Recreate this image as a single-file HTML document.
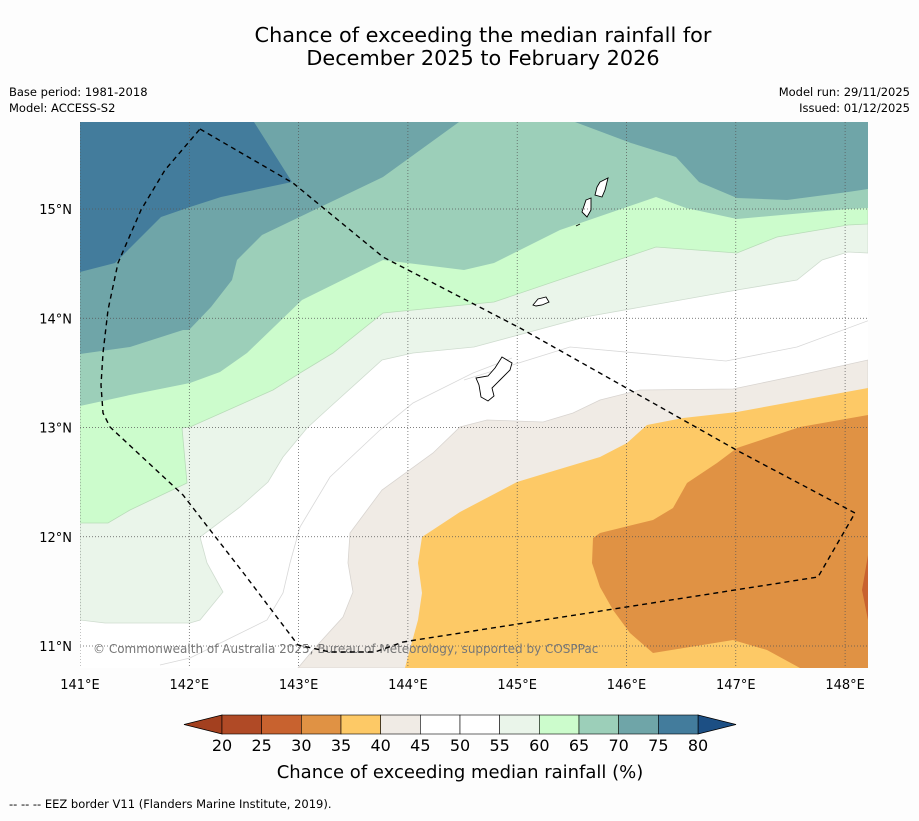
<!DOCTYPE html>
<html><head><meta charset="utf-8"><style>
body{margin:0;background:#fdfdfd;font-family:"Liberation Sans",sans-serif;}
svg text{font-family:"DejaVu Sans","Liberation Sans",sans-serif;}
</style></head><body>
<svg id="chart" width="919" height="816" viewBox="0 0 919 816" xmlns="http://www.w3.org/2000/svg">
<rect width="919" height="816" fill="#fdfdfd"/>
<text x="483" y="42" font-size="20.8" text-anchor="middle" fill="#000">Chance of exceeding the median rainfall for</text>
<text x="483" y="65" font-size="20.8" text-anchor="middle" fill="#000">December 2025 to February 2026</text>
<text x="9" y="96" font-size="11.5">Base period: 1981-2018</text>
<text x="9" y="112" font-size="11.5">Model: ACCESS-S2</text>
<text x="910" y="96" font-size="11.5" text-anchor="end">Model run: 29/11/2025</text>
<text x="910" y="112" font-size="11.5" text-anchor="end">Issued: 01/12/2025</text>

<g>
<clipPath id="mc"><rect x="80" y="122" width="788" height="546"/></clipPath>
<g clip-path="url(#mc)">
<rect x="80" y="122" width="788" height="546" fill="#ffffff"/>
<path fill="#eaf5ea" stroke="#cfdccf" stroke-width="0.8" d="M80,122 H868 V253 L848,252 822,260 797,280 737,290 585,317 474,347 413,353 382,360 330,407 307,428 283,457 268,482 240,507 200,537 207,563 223,592 200,620 190,623 105,623 80,620 Z"/>
<path fill="#ccfccc" stroke="#b8dcb8" stroke-width="0.8" d="M80,122 H868 V224 L848,225 777,237 737,253 656,247 494,302 383,313 333,353 300,373 273,390 190,427 182,428 187,483 130,510 108,523 80,523 Z"/>
<path fill="#9ccfb9" d="M80,122 H868 V208 L848,209 737,219 686,208 656,197 560,230 494,263 464,270 383,260 302,300 247,353 220,372 190,383 130,395 80,406 Z"/>
<path fill="#6fa5a8" d="M80,122 L459,122 383,177 262,235 237,260 232,280 211,307 189,330 183,330 130,347 80,354 Z"/>
<path fill="#6fa5a8" d="M575,122 L868,122 V189 L848,192 787,200 737,198 699,182 676,157 631,143 Z"/>
<path fill="#437c9c" d="M80,122 L254,122 292,182 221,197 190,207 161,217 115,263 80,272 Z"/>
<path fill="none" stroke="#d8d8d8" stroke-width="0.8" d="M464,380 L570,347 726,361 797,347 870,320"/>
<path fill="none" stroke="#d8d8d8" stroke-width="0.8" d="M160,665 L190,658 267,620 283,593 290,563 300,527 330,477 380,430 413,403 473,373 512,358"/>
<path fill="#f0ebe5" stroke="#d8d4d0" stroke-width="0.8" d="M298,668 L313,650 343,617 353,592 348,563 350,533 382,490 433,453 460,427 487,420 543,422 573,413 600,400 640,390 733,389 800,375 868,360 V668 Z"/>
<path fill="#fdc966" d="M405,668 L407,660 418,620 422,593 418,563 422,537 460,512 517,482 540,475 600,457 627,443 647,425 683,418 737,412 868,388 V668 Z"/>
<path fill="#e09244" d="M800,668 L767,650 733,640 653,653 630,633 613,610 600,587 592,563 593,538 600,533 653,520 673,508 687,483 717,463 737,448 800,427 868,415 V668 Z"/>
<path fill="#c8622f" d="M868,555 L862,590 868,620 Z"/>
<g fill="#fff" stroke="#000" stroke-width="0.9">
<path d="M502,357 L512,363 510,370 500,380 492,388 494,396 488,401 481,397 479,385 476,378 488,376 495,368 Z"/>
<path d="M533,305 L538,299 546,297 549,302 542,305 536,306 Z"/>
<path d="M586,200 L591,198 591,210 587,217 582,212 Z"/>
<path d="M600,182 L608,178 605,190 602,197 595,195 597,187 Z"/>
<path d="M576,226 L580,224"/>
</g>
<g id="grid" stroke="#555" stroke-width="0.7" stroke-dasharray="1,2"></g>
<text x="93" y="653" font-size="12" fill="#777">© Commonwealth of Australia 2025, Bureau of Meteorology, supported by COSPPac</text>
<path fill="none" stroke="#000" stroke-width="1.4" stroke-dasharray="5,4" d="M200,129 L293,183 383,257 520,328 740,452 855,513 818,577 403,642 375,652 330,652 298,645 245,575 183,495 110,427 103,413 101,385 103,353 108,310 118,263 141,210 165,170 200,129"/>
</g>
</g>
<g id="axis"></g>
<g id="cbar"></g>
<text x="460" y="778" font-size="18" text-anchor="middle">Chance of exceeding median rainfall (%)</text>
<text x="9" y="808" font-size="11.5">--  --  -- EEZ border V11 (Flanders Marine Institute, 2019).</text>
</svg>
<script>
const lonTicks=[141,142,143,144,145,146,147,148];
const latTicks=[11,12,13,14,15];
const cbarLevels=[20,25,30,35,40,45,50,55,60,65,70,75,80];
const cbarColors=["#b04a26","#c8622f","#e09244","#fdc966","#f0ebe5","#ffffff","#ffffff","#eaf5ea","#ccfccc","#9ccfb9","#6fa5a8","#437c9c"];
const NS="http://www.w3.org/2000/svg";
const xLon=v=>80+(v-141)*109.3;
const yLat=v=>646-(v-11)*109.25;
const xC=v=>222+(v-20)*(476/60);
function mk(t,a,p){const e=document.createElementNS(NS,t);for(const k in a)e.setAttribute(k,a[k]);p.appendChild(e);return e;}
const grid=document.getElementById('grid'),axis=document.getElementById('axis'),cb=document.getElementById('cbar');
lonTicks.forEach(l=>{const x=xLon(l);
 const g=mk('line',{x1:x,x2:x,y1:122,y2:668},grid);
 
 
 const t=mk('text',{x:x,y:689,'font-size':13,'text-anchor':'middle'},axis);t.textContent=l+'°E';
 
 });
latTicks.forEach(l=>{const y=yLat(l);
 const g=mk('line',{x1:80,x2:868,y1:y,y2:y},grid);
 
 
 const t=mk('text',{x:72,y:y+5,'font-size':13,'text-anchor':'end'},axis);t.textContent=l+'°N';
 
 });
const cbTop=715,cbBot=734;
const lt=mk('polygon',{points:`${xC(20)},${cbTop} ${xC(20)},${cbBot} 184,${(cbTop+cbBot)/2}`,fill:'#a3401f',stroke:'#000','stroke-width':0.8},cb);


const rt=mk('polygon',{points:`${xC(80)},${cbTop} ${xC(80)},${cbBot} 736,${(cbTop+cbBot)/2}`,fill:'#1c4f84',stroke:'#000','stroke-width':0.8},cb);


cbarColors.forEach((c,i)=>{const x0=xC(cbarLevels[i]),x1=xC(cbarLevels[i+1]);
 const r=mk('rect',{x:x0,y:cbTop,width:x1-x0,height:cbBot-cbTop,fill:c,stroke:'#000','stroke-width':0.6},cb);
 
 });
cbarLevels.forEach(v=>{const t=mk('text',{x:xC(v),y:751,'font-size':16,'text-anchor':'middle'},cb);t.textContent=v;
 
 });
</script>
</body></html>
